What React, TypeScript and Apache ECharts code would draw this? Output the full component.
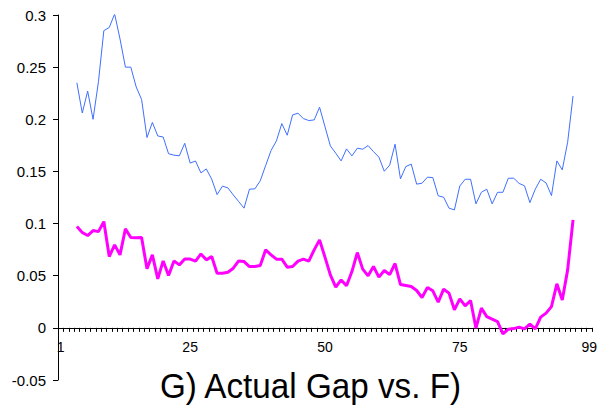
import React, { useEffect, useRef } from "react";
import * as echarts from "echarts";

const categories: string[] = Array.from({ length: 99 }, (_, i) => String(i + 1));
const firstCategory = 4;

const blueValues: number[] = [
  0.235, 0.206, 0.227, 0.2, 0.236, 0.285, 0.288, 0.301, 0.277, 0.25,
  0.25, 0.231, 0.219, 0.1825, 0.197, 0.184, 0.183, 0.167, 0.1656, 0.165,
  0.177, 0.158, 0.16, 0.1486, 0.1524, 0.1426, 0.1278, 0.1359, 0.1342, 0.1275,
  0.1211, 0.1148, 0.133, 0.1333, 0.141, 0.1556, 0.17, 0.1793, 0.1959, 0.1847,
  0.2042, 0.2058, 0.2007, 0.1988, 0.1994, 0.2116, 0.193, 0.1745, 0.1675, 0.1601,
  0.1716, 0.1649, 0.1723, 0.1713, 0.1748, 0.169, 0.1637, 0.1502, 0.156, 0.1761,
  0.1429, 0.1547, 0.157, 0.1378, 0.1387, 0.1445, 0.1441, 0.1266, 0.1253, 0.1148,
  0.1131, 0.136, 0.1425, 0.1425, 0.1189, 0.13, 0.133, 0.1189, 0.13, 0.13,
  0.1435, 0.1435, 0.1385, 0.1362, 0.1201, 0.133, 0.1425, 0.139, 0.1268, 0.1601,
  0.1515, 0.178, 0.2224,
];

const magentaValues: number[] = [
  0.0971, 0.0914, 0.0885, 0.0933, 0.0923, 0.1019, 0.0684, 0.0796, 0.07, 0.0949,
  0.0866, 0.0863, 0.0866, 0.0566, 0.07, 0.047, 0.0642, 0.0502, 0.0642, 0.0604,
  0.066, 0.066, 0.064, 0.0709, 0.0652, 0.0684, 0.0524, 0.0524, 0.0534, 0.0572,
  0.0642, 0.0636, 0.0588, 0.0588, 0.0597, 0.0748, 0.07, 0.0659, 0.0659, 0.0582,
  0.0588, 0.064, 0.0659, 0.064, 0.0748, 0.0844, 0.0678, 0.0508, 0.039, 0.046,
  0.0403, 0.054, 0.0722, 0.0563, 0.0499, 0.0588, 0.0486, 0.055, 0.051, 0.0617,
  0.0415, 0.0406, 0.0396, 0.0358, 0.0291, 0.0387, 0.0355, 0.0246, 0.0371, 0.0333,
  0.0173, 0.0278, 0.0211, 0.0262, -0.0003, 0.0189, 0.0108, 0.0083, 0.006, -0.0058,
  -0.0013, -0.0007, 0.0007, -0.001, 0.0035, -0.001, 0.0103, 0.0141, 0.0204, 0.0422,
  0.0268, 0.0556, 0.1035,
];

const xLabelShown: string[] = ["1", "25", "50", "75", "99"];
const yTicks = { min: -0.05, max: 0.3, interval: 0.05 };
const titleText = "G) Actual Gap vs. F)";

function place(values: number[]): (number | null)[] {
  const out: (number | null)[] = categories.map(() => null);
  values.forEach((v, i) => {
    out[firstCategory - 1 + i] = v;
  });
  return out;
}

export default function App() {
  const ref = useRef<HTMLDivElement>(null);
  useEffect(() => {
    if (!ref.current) return;
    const chart = echarts.init(ref.current, undefined, { renderer: "svg" });
    const font = "Arial, 'Liberation Sans', Helvetica, sans-serif";
    const gridTop = 15;
    const gridBottomPx = 380;
    const plotH = gridBottomPx - gridTop;
    const zeroOffset = -((0 - yTicks.min) / (yTicks.max - yTicks.min)) * plotH;
    chart.setOption({
      animation: false,
      backgroundColor: "#ffffff",
      grid: { left: 58, right: 6, top: gridTop, bottom: 409 - gridBottomPx, containLabel: false },
      xAxis: {
        type: "category",
        data: categories,
        boundaryGap: true,
        position: "bottom",
        offset: zeroOffset,
        axisLine: { onZero: false, lineStyle: { color: "#000", width: 1 } },
        axisTick: { show: true, interval: 0, length: 4, inside: false, lineStyle: { color: "#000" } },
        axisLabel: {
          interval: (_idx: number, val: string) => xLabelShown.includes(val),
          color: "#000",
          fontFamily: font,
          fontSize: 14,
          margin: 12,
        },
        splitLine: { show: false },
      },
      yAxis: {
        type: "value",
        min: yTicks.min,
        max: yTicks.max,
        interval: yTicks.interval,
        axisLine: { show: true, onZero: false, lineStyle: { color: "#000", width: 1 } },
        axisTick: { show: true, length: 5, lineStyle: { color: "#000" } },
        axisLabel: {
          color: "#000",
          fontFamily: font,
          fontSize: 15,
          margin: 12,
          formatter: (v: number) => {
            const r = Math.round(v * 100) / 100;
            return String(r);
          },
        },
        splitLine: { show: false },
      },
      graphic: [
        {
          type: "text",
          x: 160,
          y: 368,
          scaleX: 0.95,
          style: {
            text: titleText,
            fontFamily: font,
            fontSize: 35,
            fill: "#000",
          },
        },
      ],
      series: [
        {
          type: "line",
          data: place(blueValues),
          showSymbol: false,
          symbol: "none",
          connectNulls: false,
          lineStyle: { color: "#3f6fff", width: 1 },
        },
        {
          type: "line",
          data: place(magentaValues),
          showSymbol: false,
          symbol: "none",
          lineStyle: { color: "#ff00ff", width: 3 },
        },
      ],
    });
    return () => chart.dispose();
  }, []);
  return <div ref={ref} style={{ width: 600, height: 409, position: "absolute", left: 0, top: 0 }} />;
}
